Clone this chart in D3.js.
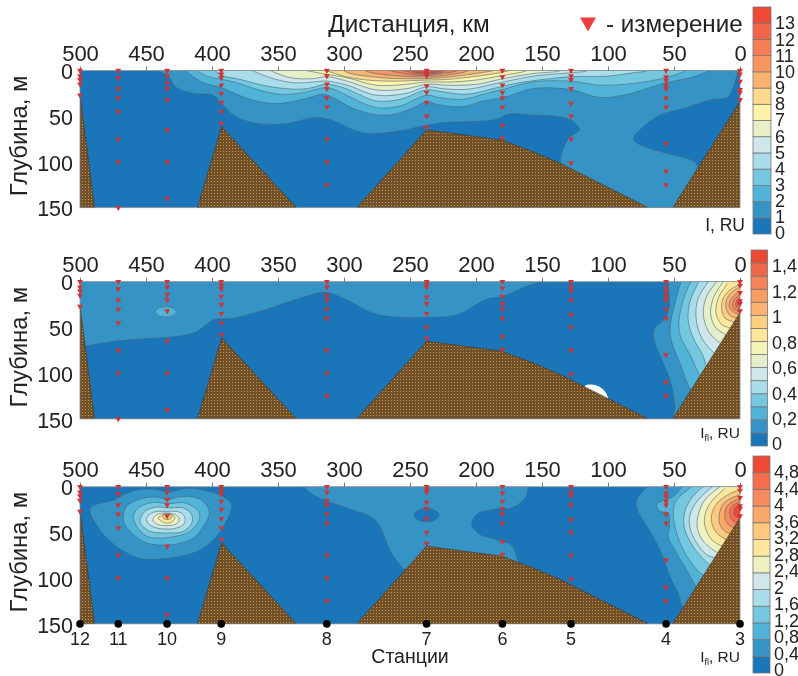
<!DOCTYPE html>
<html>
<head>
<meta charset="utf-8">
<script src="https://cdn.jsdelivr.net/npm/d3@7"></script>
<style>
  body { margin: 0; background: #fff; }
  svg { display: block; filter: blur(0.4px); font-family: "Liberation Sans", Arial, sans-serif; }
</style>
</head>
<body>
<div id="chart"></div>
<script>
// stations along the section, km from the mouth
var stationKm = [500, 471, 434, 393, 313, 237.4, 180, 128, 56, 0];
var stationNames = ["12", "11", "10", "9", "8", "7", "6", "5", "4", "3"];
// sampled depths at each station, m
var stationDepths = [
    [0, 6, 10, 15, 27],
    [0, 8, 20, 30, 45, 75, 100, 150],
    [0, 6, 14, 20, 32, 65, 100, 140],
    [0, 4, 8, 16, 25, 35, 45, 58],
    [0, 6, 15, 20, 30, 40, 75, 100, 125],
    [0, 3, 6, 17, 24, 35, 50, 62],
    [0, 7, 16, 24, 30, 40, 60, 74],
    [0, 6, 10, 20, 36, 50, 75, 101],
    [0, 7, 11, 16, 20, 30, 40, 80, 110, 125],
    [0, 4, 12, 21, 24, 32]
];

var kmTicks = [500, 450, 400, 350, 300, 250, 200, 150, 100, 50, 0];
var depthTicks = [0, 50, 100, 150];

// sea bed outlines, [km, m]
var bedLeft = [[500, 27], [489, 150], [500, 150]];
var bedRidge = [[411, 150], [392.7, 61.5], [336, 150]];
var bedMain = [[290.4, 150], [237.4, 65], [180.5, 76], [156.6, 89], [136, 101.6], [69.4, 150]];
var bedRight = [[51, 150], [0, 34], [0, 150]];

// goes round the brown corner and out of the plot, closes a fan contour
var wrap = [[-20, 170], [-20, -10]];

// contour lines: [level, [[km, m], ...]]
var lines1 = [
    [1, [[448, -2], [434, 5], [427, 18.6], [414, 25], [399, 27], [392.7, 36], [383.8, 48.8], [368.7, 57], [346, 58.6], [320.7, 51.3], [308, 55], [293, 65], [280.4, 69], [257.6, 66], [237.4, 59.9], [224.8, 57], [207, 56], [184.4, 53.5], [175.5, 47.7], [156.6, 48.8], [136.4, 50.6], [126.3, 56], [121.8, 65], [128.8, 72.4], [132.6, 81.5], [135.9, 101.6], [125, 125], [90, 160], [50, 165], [42, 150], [32.4, 103.4], [55.6, 90.6], [72, 83.4], [80.8, 75.3], [75.8, 65], [60.6, 48.8], [43, 41.5], [22.8, 32.4], [8.9, 28.8], [5, 17.8], [2.6, 6.9], [0.5, -2]]],
    [2, [[421, -2], [416.7, 4.2], [406.6, 13.3], [392.7, 18.8], [381.3, 26], [368.7, 32.6], [351, 36.2], [330.8, 31.5], [315.7, 26], [305.6, 31.5], [295.5, 39.9], [280.4, 47.2], [265.2, 48.6], [250, 42.4], [237.4, 34.4], [227.3, 37.7], [209.7, 39.5], [194.5, 33.3], [179.4, 29.7], [156.6, 19.7], [128.8, 20.7], [106.1, 29.5], [86, 26.2], [58.1, 14.2], [35.4, 6.9], [24, 0.4], [22, -2]]],
    [3, [[414, -2], [404, 6], [392.7, 9.7], [381.3, 13.3], [366.2, 20.6], [348.5, 26], [330.8, 24.2], [313.2, 18.8], [303, 23.5], [295.5, 29], [275.3, 40.6], [257.6, 38.8], [237.4, 27.1], [227.3, 29.7], [209.7, 31.5], [194.5, 26], [179.4, 20.6], [156.6, 12.4], [128.8, 11.6], [106, 16], [80.8, 14.2], [55.6, 7.6], [41.7, 0.4], [40, -2]]],
    [4, [[399, -2], [392.7, 5.3], [378.8, 9.7], [361.2, 16.2], [343.5, 19.9], [328.3, 19.9], [313.2, 15.1], [300.5, 18.8], [275.3, 33.3], [257.6, 31.5], [237.4, 21.3], [224.8, 23.5], [207.1, 26], [184.4, 18.8], [166.7, 13.3], [128.8, 6.9], [101, 6.2], [80.8, 2.5], [70.7, 0.4], [68, -2]]],
    [5, [[373, -2], [353.6, 8.9], [338.4, 13.3], [323.3, 12.6], [313.2, 11.5], [298, 15.9], [275.3, 27.1], [252.8, 25], [237.4, 17.7], [224.8, 19.9], [207.1, 20.6], [181.9, 13.3], [156.6, 6.2], [128.8, 2.5], [116.2, 0.4], [114, -2]]],
    [6, [[359, -2], [341, 7.8], [323.3, 8.9], [313.2, 6.8], [298, 11.5], [275.3, 21.3], [252.8, 19.9], [237.4, 15.1], [219.8, 16.2], [199.5, 15.1], [179.4, 8.9], [156.6, 3.3], [136.4, 0.4], [134, -2]]],
    [7, [[336, -2], [313.2, 4.2], [298, 7.8], [275.3, 16.2], [252.8, 15.1], [237.4, 12.5], [219.8, 12.6], [199.5, 10.4], [179.4, 5.3], [161.7, 0.2], [160, -2]]],
    [8, [[318, -2], [295.5, 7.8], [270.3, 11.5], [237.4, 10.5], [219.8, 9.5], [194.5, 5.3], [179.4, 1.7], [170, -2]]],
    [9, [[303, -2], [295.5, 3.1], [270.3, 8], [250, 9], [237.4, 8.8], [219.8, 7], [194.5, 2], [187, 0], [185, -2]]],
    [10, [[287, -2], [280.4, 2], [257.6, 6], [237.4, 7], [219.8, 4.5], [207.1, 1], [204, -2]]],
    [11, [[272, -2], [250, 4.5], [237.4, 5.5], [225, 3], [214.7, 0.5], [212, -2]]],
    [12, [[260, -2], [245, 3.5], [237.4, 4], [228, 2.5], [220, -2]]],
    [13, [[252, -2], [245, 2], [237.4, 2.5], [230, 1.5], [224, -2]]]
];

var lines2 = [
    [0.1, [[505, -5], [505, 72], [495.4, 70.3], [472.2, 64.8], [447, 62.2], [424.2, 59.3], [411.6, 54.6], [399, 41.9], [383.8, 40], [358.6, 30.2], [333.4, 18.2], [314.4, 11.6], [298, 20], [277.8, 34.6], [257.6, 38.9], [237.4, 38.9], [214.7, 36.4], [192, 19.3], [179.3, 15.7], [159.1, 3.6], [149, 0], [147, -2]]],
    [0.1, [[54, -2], [54.3, 1.8], [53.6, 27.3], [56.9, 40], [65.2, 52.8], [64.4, 67.3], [58.1, 89.2], [53, 107.4], [49.3, 136.5], [50, 152]].concat(wrap)],
    [0.2, [[44.2, -2], [48, 16.4], [53, 51], [51.8, 65.5], [45.5, 89.2], [37.9, 117], [35, 122]].concat(wrap)],
    [0.3, [[36.6, -2], [41.7, 14.2], [46, 39.7], [45.5, 57.9], [36.6, 83.4], [31.6, 99.7], [29, 106]].concat(wrap)],
    [0.4, [[30.3, -2], [37.9, 21.5], [39.2, 43.3], [35.4, 61.5], [27.8, 81.5], [25.8, 91.4], [23, 98]].concat(wrap)],
    [0.5, [[22.7, -2], [31.6, 17.8], [33.3, 39.7], [29, 61.5], [19.7, 77.9], [16, 82]].concat(wrap)],
    [0.6, [[16.4, -2], [25.3, 16], [27.8, 36], [23.2, 56], [15.2, 67], [11, 72]].concat(wrap)],
    [0.7, [[12.6, 0], [20.2, 17.8], [22.2, 36], [18.2, 50.6], [11.1, 57.9], [8, 62]].concat(wrap)],
    [0.8, [[9.6, 2], [16.4, 17.8], [18.2, 34.2], [13.9, 47], [8.1, 50.6], [5, 55]].concat(wrap)],
    [0.9, [[-3, 2], [6.3, 7.6], [12.6, 17.8], [13.9, 28.8], [11.4, 39.7], [5.3, 44], [2, 48]].concat(wrap)],
    [1, [[-3, 5], [3.8, 8.7], [9.6, 17.8], [10.6, 28.8], [7.6, 36.8], [3.3, 39.7], [-3, 44]]],
    [1.1, [[-3, 9], [2, 12.4], [7.1, 19.7], [8.1, 26.9], [5.6, 32.4], [1.5, 35.3], [-3, 38]]],
    [1.2, [[-3, 12], [0.5, 14.2], [4.5, 19.7], [5.6, 26.9], [3.8, 30.6], [0.5, 33], [-3, 35]]],
    [1.3, [[-3, 15], [0, 17], [3, 22.2], [2.5, 28], [0, 29.5], [-3, 31]]],
    [1.4, [[-3, 18], [0, 19.7], [1.8, 23.3], [0, 27], [-3, 29]]]
];
var loops2 = [
    [0.2, [[443, 33], [440.7, 29], [435, 27.2], [429.3, 29], [427, 33], [429.3, 37], [435, 38.8], [440.7, 37]]]
];
// the unsampled white patch by the bottom in the middle panel
var gap2 = [[117.5, 114], [108.6, 113.6], [102.3, 120], [99.8, 128], [100, 138], [118, 130]];

var lines3 = [
    [0.4, [[331.5, -2], [323.2, 9.1], [308.1, 18.2], [293, 25.5], [277.8, 34.6], [271.5, 47.3], [265.2, 69.2], [257.6, 85.5], [252, 92], [215, 100], [180, 95], [168, 85], [169.2, 76.4], [173, 63.7], [184.4, 58.2], [198.3, 51], [203.3, 40], [198.3, 29.1], [187, 24.8], [171.7, 22.6], [162.2, 10.9], [160.4, 0], [160, -2]]],
    [0.4, [[68.7, -2], [78.3, 14.6], [77.8, 25.5], [69.5, 45.5], [60.6, 69.2], [53.1, 98.3], [46.8, 116.5], [43.7, 131], [35, 150]].concat(wrap)],
    [0.8, [[43, -2], [50.5, 10.6], [58.1, 14.9], [63.1, 19.7], [60.6, 27], [54.3, 28.8], [53.5, 43.3], [54.3, 55], [49.3, 69.2], [40.4, 91], [34.1, 107.4], [31, 114]].concat(wrap)],
    [1.2, [[34.1, -2], [44.2, 8.7], [49.3, 17.8], [50.5, 30.6], [48, 50.6], [41.7, 72.4], [31.6, 92.5], [25, 100]].concat(wrap)],
    [1.6, [[26.5, -2], [36.6, 12.4], [41.7, 26.9], [42.4, 43.3], [37.9, 59.7], [30.8, 74.3], [23.2, 85.2], [19, 90]].concat(wrap)],
    [2, [[19, -2], [31.6, 14.2], [37.9, 30.6], [37.9, 45.1], [32.8, 61.5], [25.3, 74.3], [19.2, 77.9], [15, 82]].concat(wrap)],
    [2.4, [[15.2, 0], [26.5, 14.2], [31.6, 30.6], [32.3, 45.1], [27.8, 59.7], [16.7, 72.4], [12, 76]].concat(wrap)],
    [2.8, [[11.4, 2], [21.5, 16], [26.5, 30.6], [26.5, 43.3], [21.5, 57.9], [13.6, 65.2], [9, 69]].concat(wrap)],
    [3.2, [[-3, 2], [7.6, 7.6], [17.2, 17.8], [21.5, 30.6], [20.7, 43.3], [16.4, 52.4], [10.4, 57.9], [6, 62]].concat(wrap)],
    [3.6, [[-3, 7], [4.6, 11.3], [12.6, 18.6], [15.7, 30.6], [15.2, 41.5], [11.4, 48.8], [7.3, 51.3], [-3, 56]]],
    [4, [[-3, 11], [2.5, 14.2], [9.6, 20.8], [11.4, 28.8], [10.6, 37.9], [7.1, 43.3], [4.6, 45.1], [-3, 50]]],
    [4.4, [[-3, 14], [1.3, 17.1], [7.1, 23.3], [7.6, 30.6], [6.3, 36], [2.5, 39.7], [-3, 42]]],
    [4.8, [[-3, 18], [0, 19.7], [4.3, 24.4], [3.8, 31.7], [0, 34], [-3, 35]]]
];
var loops3 = [
    [0.4, [[492.4, 23.7], [474.7, 14.6], [459.6, 4.4], [441.9, 2.9], [433.1, 6.2], [419.2, 1.8], [404, 4.4], [391.4, 10.9], [385.1, 20], [391.4, 43.7], [399, 58.2], [411.6, 71], [434.4, 78.3], [454.6, 78.3], [472.2, 65.5], [484.9, 47.3]]],
    [0.8, [[467.2, 32.4], [464.6, 21.5], [454.5, 13.5], [441.9, 11.3], [433.8, 14.2], [425.5, 11.3], [414.1, 11.3], [405.3, 17.8], [402, 28.8], [406.6, 43.3], [414.1, 56], [429.3, 63.3], [449.5, 61.5], [460.8, 50.6], [465.9, 41.5]]],
    [1.2, [[459.6, 32.4], [455.8, 23.3], [444.4, 17.1], [433.8, 18.6], [420.4, 17.8], [410.3, 26.9], [409.6, 36], [416.7, 48.8], [431.8, 55.3], [449.5, 54.2], [457, 43.3]]],
    [1.6, [[454.5, 36], [450.7, 26.9], [441.9, 22.2], [433.1, 23.3], [421.7, 23.3], [415.4, 30.6], [415.4, 39.7], [421.7, 48.8], [434.3, 50.6], [447, 48.8], [453.3, 41.5]]],
    [2, [[449.5, 34.2], [444.4, 28], [434.3, 27], [424.2, 28], [420.4, 34.2], [421.7, 41.5], [429.3, 45.9], [441.9, 45.1], [448.2, 40.4]]],
    [2.4, [[444.4, 34.2], [440.6, 29.9], [433.8, 28.8], [428, 30.6], [424.7, 35.3], [426.7, 40.4], [433.8, 42.6], [440.6, 41.5], [444.4, 37.9]]],
    [2.8, [[440.6, 34.2], [438, 31], [433.8, 29.5], [430, 31], [428, 34.2], [430, 38], [433.8, 40], [438, 38]]],
    [3.2, [[437.4, 32.8], [436.4, 30.5], [434, 29.6], [431.5, 30.5], [430.5, 32.8], [431.5, 35], [434, 36], [436.4, 35]]],
    // dark lens at station 7
    [0, [[247, 31], [244, 26], [237.4, 23.7], [230.8, 26], [227.8, 31], [230.8, 36], [237.4, 38.3], [244, 36]]]
];

var colors1 = ["#1a75b9", "#3693c5", "#51b3d8", "#73c8df", "#a9dde9", "#cfe7ea", "#e7efc6", "#fef3a9", "#fed88c", "#fcb36f", "#f99660", "#f67e55", "#f3664a", "#ee4a33"];
var colors2 = ["#1a75b9", "#3693c5", "#51b3d8", "#73c8df", "#a9dde9", "#cfe7ea", "#e3eecb", "#f3f2b8", "#fee79a", "#fdcf80", "#fcb36f", "#f99c62", "#f6825a", "#f3664a", "#ee4a33"];
var colors3 = ["#1a75b9", "#3693c5", "#51b3d8", "#73c8df", "#a9dde9", "#cfe7ea", "#eef2c0", "#fee79a", "#fdc97c", "#fba968", "#f88b5c", "#f56d4c", "#ee4a33"];

var barLabels1 = ["0", "1", "2", "3", "4", "5", "6", "7", "8", "9", "10", "11", "12", "13"];
var barLabels2 = ["0", "0,2", "0,4", "0,6", "0,8", "1", "1,2", "1,4"];
var barLabels3 = ["0", "0,4", "0,8", "1,2", "1,6", "2", "2,4", "2,8", "3,2", "3,6", "4", "4,4", "4,8"];

var svg = d3.select("#chart").append("svg")
    .attr("width", 798)
    .attr("height", 676);

var defs = svg.append("defs");

// speckled fill for the bottom
var hatch = defs.append("pattern")
    .attr("id", "bed")
    .attr("patternUnits", "userSpaceOnUse")
    .attr("width", 3)
    .attr("height", 3);
hatch.append("rect").attr("width", 3).attr("height", 3).attr("fill", "#70502a");
hatch.append("rect").attr("x", 1).attr("y", 1).attr("width", 1).attr("height", 1).attr("fill", "#d09a38");

var x = d3.scaleLinear().domain([500, 0]).range([80, 740]);

var curveOpen = d3.curveCatmullRom.alpha(0.5);
var curveLoop = d3.curveCatmullRomClosed.alpha(0.5);

function drawPanel(opt) {
    var y = d3.scaleLinear().domain([0, 150]).range([opt.top, opt.top + 137.2]);
    var id = "clip" + opt.n;

    defs.append("clipPath").attr("id", id).append("rect")
        .attr("x", x(500))
        .attr("y", y(0))
        .attr("width", x(0) - x(500))
        .attr("height", y(150) - y(0));

    var g = svg.append("g");
    var plot = g.append("g").attr("clip-path", "url(#" + id + ")");

    function color(level) {
        return opt.colors[Math.round(level / opt.step)];
    }

    var lineOpen = d3.line().curve(curveOpen)
        .x(function(d) { return x(d[0]); })
        .y(function(d) { return y(d[1]); });
    var lineLoop = d3.line().curve(curveLoop)
        .x(function(d) { return x(d[0]); })
        .y(function(d) { return y(d[1]); });
    var lineBed = d3.line()
        .x(function(d) { return x(d[0]); })
        .y(function(d) { return y(d[1]); });

    plot.append("rect")
        .attr("x", x(500))
        .attr("y", y(0))
        .attr("width", x(0) - x(500))
        .attr("height", y(150) - y(0))
        .attr("fill", opt.colors[0]);

    // filled contours, lowest level first, each one painted over the last
    plot.selectAll(".band")
        .data(opt.lines)
        .enter().append("path")
        .attr("class", "band")
        .attr("d", function(d) { return lineOpen(d[1]); })
        .attr("fill", function(d) { return color(d[0]); })
        .attr("stroke", "#46667a")
        .attr("stroke-width", 0.6);

    plot.selectAll(".loop")
        .data(opt.loops)
        .enter().append("path")
        .attr("class", "loop")
        .attr("d", function(d) { return lineLoop(d[1]); })
        .attr("fill", function(d) { return color(d[0]); })
        .attr("stroke", "#46667a")
        .attr("stroke-width", 0.6);

    if (opt.gap) {
        plot.append("path")
            .attr("d", lineLoop(opt.gap))
            .attr("fill", "#fff")
            .attr("stroke", "none");
    }

    plot.selectAll(".bed")
        .data([bedLeft, bedRidge, bedMain, bedRight])
        .enter().append("path")
        .attr("class", "bed")
        .attr("d", function(d) { return lineBed(d) + "Z"; })
        .attr("fill", "url(#bed)")
        .attr("stroke", "#4a3c30")
        .attr("stroke-width", 0.7);

    // plot frame
    g.append("rect")
        .attr("x", x(500))
        .attr("y", y(0))
        .attr("width", x(0) - x(500))
        .attr("height", y(150) - y(0))
        .attr("fill", "none")
        .attr("stroke", "#8b8b8b")
        .attr("stroke-width", 0.8);

    // top axis
    var axisX = g.append("g")
        .attr("transform", "translate(0," + y(0) + ")")
        .call(d3.axisTop(x).tickValues(kmTicks).tickSize(4).tickPadding(5.5).tickFormat(d3.format("d")));
    axisX.select(".domain").remove();
    axisX.selectAll("line").attr("stroke", "#777");
    axisX.selectAll("text").attr("font-size", 22).attr("font-family", "Liberation Sans").attr("fill", "#222");

    // depth axis
    var axisY = g.append("g")
        .attr("transform", "translate(" + x(500) + ",0)")
        .call(d3.axisLeft(y).tickValues(depthTicks).tickSize(0).tickPadding(7).tickFormat(d3.format("d")));
    axisY.select(".domain").remove();
    axisY.selectAll("text").attr("font-size", 21.5).attr("font-family", "Liberation Sans").attr("fill", "#222").attr("dy", "0.38em");

    g.append("text")
        .attr("transform", "translate(26.5," + (opt.top + 65.5) + ") rotate(-90)")
        .attr("text-anchor", "middle")
        .attr("font-size", 23.8)
        .attr("fill", "#222")
        .text("Глубина, м");

    // measurement marks
    var marks = [];
    stationDepths.forEach(function(depths, i) {
        depths.forEach(function(depth) {
            if (opt.n === 3 && depth === 150) return;
            marks.push([stationKm[i], depth]);
        });
    });
    g.selectAll(".mark")
        .data(marks)
        .enter().append("path")
        .attr("class", "mark")
        .attr("d", d3.symbol().type(d3.symbolTriangle).size(15))
        .attr("transform", function(d) { return "translate(" + x(d[0]) + "," + y(d[1]) + ") rotate(180)"; })
        .attr("fill", "#d03434");

    // colour bar
    var barY = d3.scaleLinear().domain([0, opt.colors.length * opt.step]).range(opt.barRange);
    var labelY = d3.scaleLinear().domain([0, opt.labelMax]).range(opt.labelRange);

    g.selectAll(".swatch")
        .data(opt.colors)
        .enter().append("rect")
        .attr("class", "swatch")
        .attr("x", opt.barX)
        .attr("width", opt.barW)
        .attr("y", function(d, i) { return barY((i + 1) * opt.step); })
        .attr("height", function(d, i) { return barY(i * opt.step) - barY((i + 1) * opt.step); })
        .attr("fill", function(d) { return d; })
        .attr("stroke", "#77777a")
        .attr("stroke-width", 0.8);

    g.selectAll(".barlabel")
        .data(opt.barLabels)
        .enter().append("text")
        .attr("class", "barlabel")
        .attr("x", opt.labelX)
        .attr("y", function(d, i) { return labelY(i * opt.labelStep); })
        .attr("dy", "0.36em")
        .attr("font-size", 18)
        .attr("fill", "#222")
        .text(function(d) { return d; });

    // units
    var unit = g.append("text")
        .attr("x", opt.unitX)
        .attr("y", opt.unitY)
        .attr("text-anchor", "end")
        .attr("font-size", opt.n > 1 ? 15.5 : 17.5)
        .attr("fill", "#222");
    unit.append("tspan").text("I");
    if (opt.n > 1) {
        unit.append("tspan").attr("font-size", 9).attr("dy", 3).text("fl");
    }
    unit.append("tspan").attr("dy", opt.n > 1 ? -3 : 0).text(", RU");

    return y;
}

drawPanel({
    n: 1, top: 70.5, step: 1, colors: colors1, lines: lines1, loops: [],
    barX: 753, barW: 18, barRange: [234, 7],
    barLabels: barLabels1, labelX: 775, labelMax: 13, labelRange: [233, 23], labelStep: 1,
    unitX: 745, unitY: 231
});

drawPanel({
    n: 2, top: 281.7, step: 0.1, colors: colors2, lines: lines2, loops: loops2, gap: gap2,
    barX: 751, barW: 16.5, barRange: [446, 250],
    barLabels: barLabels2, labelX: 772, labelMax: 1.4, labelRange: [444, 266], labelStep: 0.2,
    unitX: 740, unitY: 438
});

var y3 = drawPanel({
    n: 3, top: 486.7, step: 0.4, colors: colors3, lines: lines3, loops: loops3,
    barX: 753, barW: 17, barRange: [673, 456],
    barLabels: barLabels3, labelX: 774, labelMax: 4.8, labelRange: [669.5, 472], labelStep: 0.4,
    unitX: 740, unitY: 662
});

// stations under the last panel
svg.selectAll(".station")
    .data(stationKm)
    .enter().append("circle")
    .attr("class", "station")
    .attr("cx", function(d) { return x(d); })
    .attr("cy", y3(150))
    .attr("r", 3.8)
    .attr("fill", "#000");

svg.selectAll(".stationName")
    .data(stationNames)
    .enter().append("text")
    .attr("class", "stationName")
    .attr("x", function(d, i) { return x(stationKm[i]); })
    .attr("y", 645)
    .attr("text-anchor", "middle")
    .attr("font-size", 18)
    .attr("fill", "#222")
    .text(function(d) { return d; });

svg.append("text")
    .attr("x", 410)
    .attr("y", 663)
    .attr("text-anchor", "middle")
    .attr("font-size", 19.5)
    .attr("fill", "#222")
    .text("Станции");

svg.append("text")
    .attr("x", 409)
    .attr("y", 32)
    .attr("text-anchor", "middle")
    .attr("font-size", 24.3)
    .attr("fill", "#222")
    .text("Дистанция, км");

// legend for the marks
svg.append("path")
    .attr("d", d3.symbol().type(d3.symbolTriangle).size(110))
    .attr("transform", "translate(588,22) rotate(180)")
    .attr("fill", "#ee3b3b");

svg.append("text")
    .attr("x", 606)
    .attr("y", 32)
    .attr("font-size", 24.2)
    .attr("fill", "#222")
    .text("- измерение");
</script>
</body>
</html>
